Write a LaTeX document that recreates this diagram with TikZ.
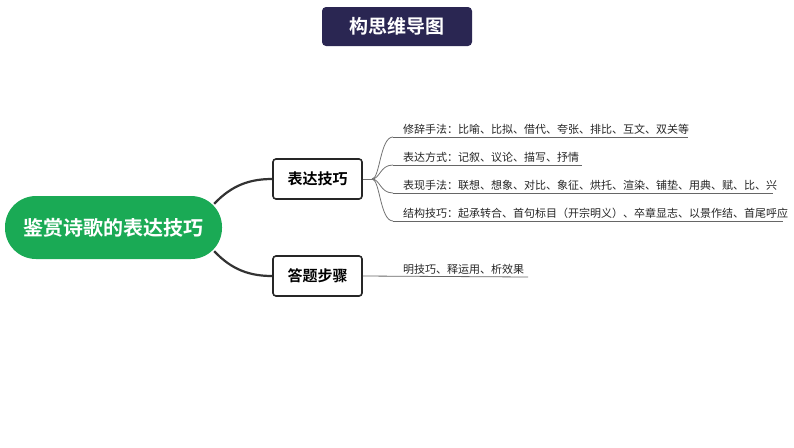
\documentclass[tikz,border=0pt]{standalone}
\usepackage{fontspec}
\newfontfamily\cjk{Noto Sans CJK SC}
\newfontfamily\cjkb{Noto Sans CJK SC Bold}
\begin{document}
\begin{tikzpicture}[x=1pt,y=-1pt,
  leaf/.style={anchor=south west,inner sep=1pt,font=\cjk\fontsize{11}{11}\selectfont,text=black!85},
  uline/.style={draw=black!60,line width=0.8pt},
  twig/.style={draw=black!55,line width=0.8pt},
  branch/.style={draw=black!80,line width=2.2pt},
  box/.style={draw=black!85,line width=1.6pt,rounded corners=3pt,fill=white,minimum width=89pt,minimum height=40pt,font=\cjkb\fontsize{15}{15}\selectfont}]
\useasboundingbox (0,0) rectangle (794,447);
\node[fill={rgb,255:red,42;green,38;blue,82},rounded corners=4pt,minimum width=150pt,minimum height=39pt,text=white,font=\cjkb\fontsize{19}{19}\selectfont] (title) at (397,26.5) {构思维导图};
\node[fill={rgb,255:red,26;green,170;blue,85},rounded corners=31pt,minimum width=217pt,minimum height=63pt,text=white,font=\cjkb\fontsize{20}{20}\selectfont] (root) at (113.5,227.5) {鉴赏诗歌的表达技巧};
\node[box] (b1) at (317.5,179) {表达技巧};
\node[box] (b2) at (317.5,276) {答题步骤};
\draw[branch] (root.north east) ++(-8,8) coordinate (r1) .. controls (232,185) and (250,179) .. (b1.west);
\draw[branch] (root.south east) ++(-8,-8) coordinate (r2) .. controls (232,270) and (250,276) .. (b2.west);
\coordinate (j) at (372,179);
\draw[twig] (b1.east) -- (j);
\foreach \y/\xe/\t [count=\i] in {137/688/{修辞手法：比喻、比拟、借代、夸张、排比、互文、双关等},165/582/{表达方式：记叙、议论、描写、抒情},193/773/{表现手法：联想、想象、对比、象征、烘托、渲染、铺垫、用典、赋、比、兴},221/783/{结构技巧：起承转合、首句标目（开宗明义）、卒章显志、以景作结、首尾呼应}}{
  \coordinate (s\i) at (393,\y);
  \coordinate (e\i) at (\xe,\y);
  \draw[twig] (j) .. controls (380,179) and (380,\y) .. (s\i);
  \draw[uline] (s\i) -- (e\i);
  \node[leaf] (t\i) at (402,\y-1) {\t};
}
\coordinate (e5) at (528,277);
\draw[uline] (b2.east) -- (e5);
\node[leaf] (t5) at (402,276) {明技巧、释运用、析效果};
\end{tikzpicture}
\end{document}
